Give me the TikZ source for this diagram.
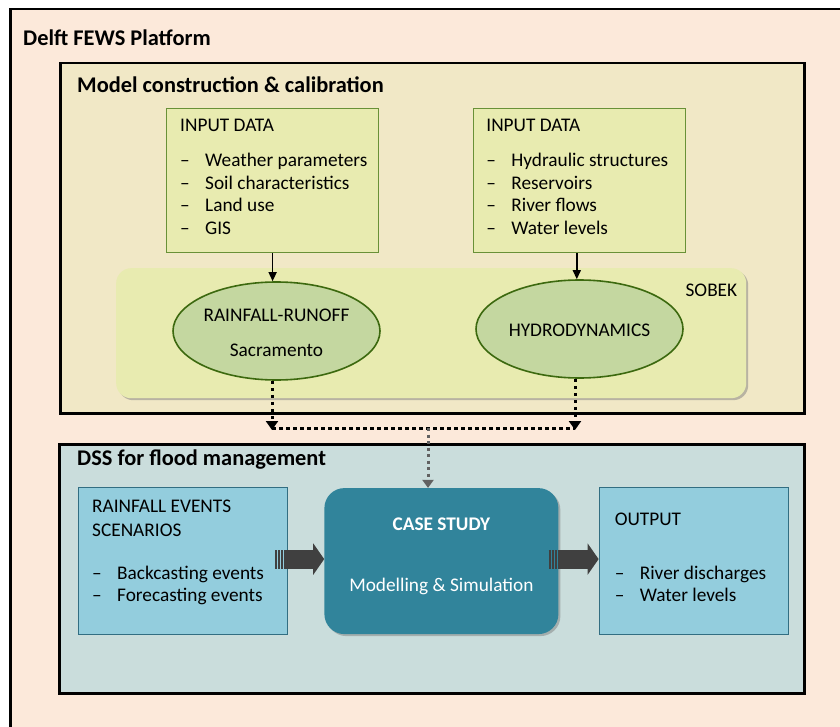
\documentclass[tikz,border=0pt]{standalone}
\usepackage{fontspec}
\setmainfont{Carlito}
\usetikzlibrary{positioning,shapes.geometric,shadows,arrows.meta}

\definecolor{peach}{RGB}{252,233,218}
\definecolor{sand}{RGB}{241,232,198}
\definecolor{lime}{RGB}{232,235,176}
\definecolor{leaf}{RGB}{196,215,160}
\definecolor{moss}{RGB}{60,105,15}
\definecolor{grass}{RGB}{105,145,55}
\definecolor{mist}{RGB}{202,221,220}
\definecolor{sky}{RGB}{147,205,221}
\definecolor{skyline}{RGB}{50,110,130}
\definecolor{teal}{RGB}{49,132,155}
\definecolor{slate}{RGB}{64,64,64}

\newcommand{\itm}[1]{\makebox[25pt][l]{--}#1}

\begin{document}
\begin{tikzpicture}[x=1pt,y=-1pt,
   every node/.style={font=\fontsize{19.3}{22.5}\selectfont, inner sep=0pt},
   frame/.style={draw=black, line width=2.5pt},
   heading/.style={font=\fontsize{22.4}{26}\selectfont\bfseries},
   softshadow/.style={drop shadow={shadow xshift=2pt, shadow yshift=-2pt, fill=black!50, opacity=.5}},
   databox/.style={draw=grass, fill=lime, line width=1.2pt, minimum width=212pt, minimum height=144pt},
   sobekbox/.style={fill=lime, rounded corners=15pt, minimum width=630pt, minimum height=130pt, softshadow},
   model/.style={ellipse, draw=moss, fill=leaf, line width=1.6pt, minimum width=207pt, minimum height=98pt},
   scenbox/.style={draw=skyline, fill=sky, line width=1.2pt, minimum height=147pt},
   casebox/.style={fill=teal, rounded corners=20pt, minimum width=234pt, minimum height=146pt, softshadow},
   listtext/.style={align=left, anchor=north west},
   flowdots/.style={line width=3pt, dash pattern=on 3.5pt off 3.5pt, -{Triangle[length=9pt,width=12pt]}},
   greydots/.style={black!62, line width=3pt, dash pattern=on 3pt off 3.5pt, -{Triangle[length=8pt,width=11pt]}},
   fatarrow/.style={slate, line width=19pt, -{Triangle[length=11pt,width=31pt]}},
   fattail/.style={slate, line width=19pt, dash pattern=on 2pt off 1pt}]
   \clip (0,0) rectangle (840,727);
   \fill[white] (0,0) rectangle (840,727);
   \node[frame, fill=peach, anchor=north west, minimum width=850pt, minimum height=740pt] (fews) at (9,8) {};
   \node[heading, anchor=base west] (fews_t) at (23,45.5) {Delft FEWS Platform};

   \node[frame, fill=sand, anchor=north west, minimum width=744pt, minimum height=350pt, softshadow] (mcc) at (59,62) {};
   \node[heading, anchor=base west] (mcc_t) at (77,92.5) {Model construction \& calibration};
   \node[databox, anchor=north west] (in_rr) at (166,108) {};
   \node[databox, right=94pt of in_rr] (in_hd) {};
   \node[listtext] (in_rr_t) at ([xshift=14pt,yshift=-11pt]in_rr.north west)
      {INPUT DATA\\[12.5pt]\itm{Weather parameters}\\\itm{Soil characteristics}\\\itm{Land use}\\\itm{GIS}};
   \node[listtext] (in_hd_t) at ([xshift=13pt,yshift=-11pt]in_hd.north west)
      {INPUT DATA\\[12.5pt]\itm{Hydraulic structures}\\\itm{Reservoirs}\\\itm{River flows}\\\itm{Water levels}};
   \node[sobekbox, anchor=north west] (sobek) at (116,268) {};
   \node[anchor=base east] (sobek_t) at ([xshift=-9pt,yshift=-28pt]sobek.north east) {SOBEK};
   \node[model] (rr) at (276.5,331) {};
   \node[model] (hd) at (579.5,329) {};
   \node[anchor=base] (rr_t) at ([yshift=9.3pt]rr.center) {RAINFALL-RUNOFF};
   \node[anchor=base] (rr_s) at ([yshift=-25pt]rr.center) {Sacramento};
   \node[anchor=base] (hd_t) at ([yshift=-7.7pt]hd.center) {HYDRODYNAMICS};
   \draw[-{Triangle[length=9pt,width=8pt]}, line width=1.4pt] (in_rr.south) -- (in_rr.south |- rr.north);
   \draw[-{Triangle[length=9pt,width=8pt]}, line width=1.4pt] ([xshift=-3pt]in_hd.south) -- ([xshift=-3pt]in_hd.south |- hd.north);

   \node[frame, fill=mist, anchor=north west, minimum width=745pt, minimum height=249pt, softshadow] (dss) at (58,443) {};
   \node[heading, anchor=base west] (dss_t) at (77,465) {DSS for flood management};
   \node[scenbox, anchor=north west, minimum width=209pt] (rain) at (78,487) {};
   \node[casebox, right=36pt of rain] (case) {};
   \node[scenbox, right=40pt of case, minimum width=189pt] (out) {};
   \node[listtext] (rain_t) at ([xshift=14pt,yshift=-13pt]rain.north west)
      {RAINFALL EVENTS\\[1.5pt]SCENARIOS\\[19.8pt]\itm{Backcasting events}\\\itm{Forecasting events}};
   \node[listtext] (out_t) at ([xshift=16pt,yshift=-25.4pt]out.north west)
      {OUTPUT\\[31.5pt]\itm{River discharges}\\\itm{Water levels}};
   \node[white, font=\fontsize{19.3}{22.5}\selectfont\bfseries, anchor=base] (case_t) at ([yshift=-43pt]case.north) {CASE STUDY};
   \node[white, anchor=base] (case_s) at ([yshift=-104pt]case.north) {Modelling \& Simulation};

   \coordinate (j_rr) at (272,430);
   \coordinate (j_hd) at (575,430);
   \coordinate (j_mid) at (428,428);
   \draw[flowdots] (rr.south -| j_rr) -- (j_rr);
   \draw[flowdots] (hd.south -| j_hd) -- (j_hd);
   \draw[line width=3pt, dash pattern=on 3.5pt off 3.5pt] (j_rr) ++(0,-2) -- ([yshift=2pt]j_hd);
   \draw[greydots] (j_mid) -- (j_mid |- case.north);

   \draw[fattail] ([xshift=-13pt,yshift=2pt]rain.east) -- ++(9,0);
   \draw[fatarrow] ([xshift=-4pt,yshift=2pt]rain.east) -- ([yshift=2pt]case.west);
   \draw[fattail] ([xshift=-10pt,yshift=2pt]case.east) -- ++(9,0);
   \draw[fatarrow] ([xshift=-1pt,yshift=2pt]case.east) -- ([yshift=2pt]out.west);
\end{tikzpicture}
\end{document}
